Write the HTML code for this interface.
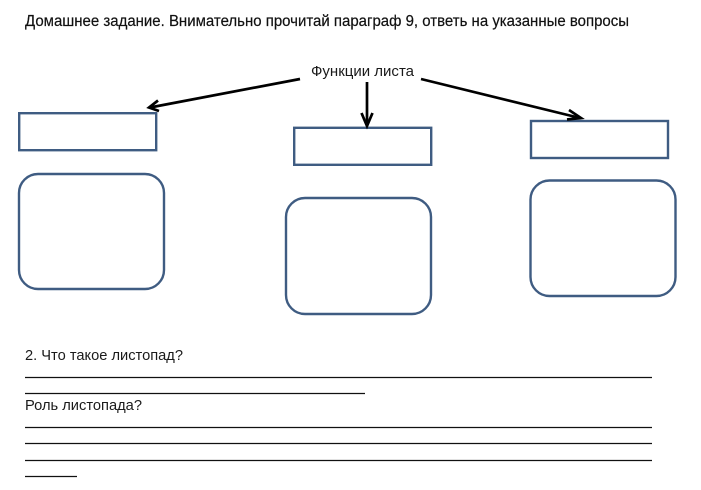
<!DOCTYPE html>
<html lang="ru">
<head>
<meta charset="utf-8">
<style>
html,body{margin:0;padding:0;background:#fff;width:701px;height:490px;overflow:hidden}
svg{display:block}
text{font-family:"Liberation Sans","Noto Sans CJK SC",sans-serif;fill:#1a1a1a}
</style>
</head>
<body>
<svg width="701" height="490" viewBox="0 0 701 490" xmlns="http://www.w3.org/2000/svg">
<rect width="701" height="490" fill="#fff"/>
<text x="25" y="26" font-size="15.5" textLength="604" lengthAdjust="spacingAndGlyphs" style="fill:#111;stroke:#111;stroke-width:.2">Домашнее задание. Внимательно прочитай параграф 9, ответь на указанные вопросы</text>
<text x="311" y="76" font-size="15" textLength="103" lengthAdjust="spacingAndGlyphs">Функции листа</text>
<g fill="none" stroke="#3f5c82" stroke-width="2.4">
<rect x="19.200" y="113.200" width="137" height="37"/>
<rect x="294.200" y="127.800" width="137" height="37"/>
<rect x="531" y="121" width="137" height="37"/>
<rect x="19" y="174" width="145" height="115" rx="19"/>
<rect x="286" y="198" width="145" height="116" rx="19"/>
<rect x="530.500" y="180.500" width="145" height="115.500" rx="19"/>
</g>
<g fill="none" stroke="#000" stroke-width="2.700">
<path d="M300 79 L150 107.500"/>
<path d="M158 100.500 L149 107.500 L159 111"/>
<path d="M367 82 L367 126"/>
<path d="M361.500 113 L367 126 L372.500 113"/>
<path d="M421 79 L580 118"/>
<path d="M569 110 L581 118 L567 119.500"/>
</g>
<text x="25" y="360" font-size="15" textLength="158" lengthAdjust="spacingAndGlyphs">2. Что такое листопад?</text>
<text x="25" y="410" font-size="15" textLength="117" lengthAdjust="spacingAndGlyphs">Роль листопада?</text>
<g stroke="#111" stroke-width="1.200">
<line x1="25" y1="377.500" x2="652" y2="377.500"/>
<line x1="25" y1="393.500" x2="365" y2="393.500"/>
<line x1="25" y1="427.500" x2="652" y2="427.500"/>
<line x1="25" y1="443.500" x2="652" y2="443.500"/>
<line x1="25" y1="460.500" x2="652" y2="460.500"/>
<line x1="25" y1="476.500" x2="77" y2="476.500"/>
</g>
</svg>
</body>
</html>
